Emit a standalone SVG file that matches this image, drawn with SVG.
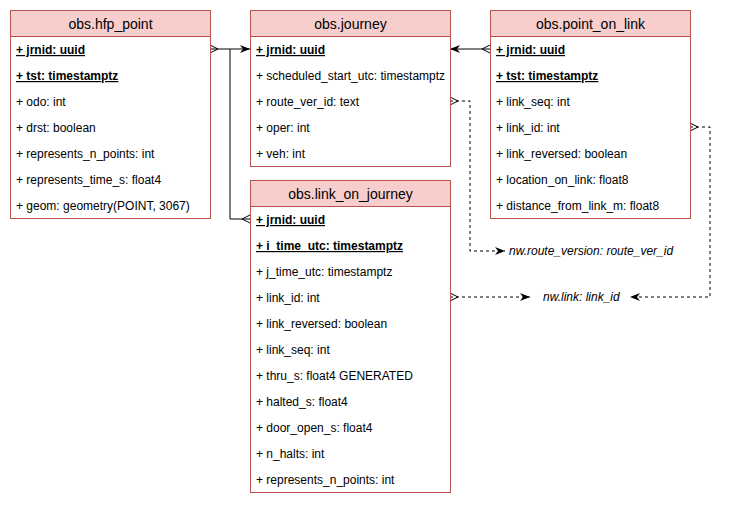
<svg xmlns="http://www.w3.org/2000/svg" width="730" height="506" viewBox="0 0 730 506">
<style>
.hd{fill:#f8cecc;stroke:#b85450;stroke-width:1}
.bd{fill:#ffffff;stroke:#b85450;stroke-width:1}
.t{font-family:"Liberation Sans",Arial,sans-serif;font-size:14px;fill:#000;text-anchor:middle}
.r{font-family:"Liberation Sans",Arial,sans-serif;font-size:12px;fill:#000}
.k{font-weight:bold;text-decoration:underline}
.lbl{font-family:"Liberation Sans",Arial,sans-serif;font-size:12px;font-style:italic;fill:#000}
.c{fill:none;stroke:#000;stroke-width:1}
.d{stroke-dasharray:3 3}
.cf{fill:none;stroke:#000;stroke-width:1}
</style>
<defs>
<marker id="ah" viewBox="0 0 10 10" refX="10" refY="5" markerWidth="10" markerHeight="10" markerUnits="userSpaceOnUse" orient="auto">
<path d="M0,1 L10,5 L0,9 L3,5 Z" fill="#000"/>
</marker>
</defs>
<g id="connectors">
<path class="c" d="M210,49 L250,49" marker-end="url(#ah)"/>
<path class="cf" d="M210,45 L218,49 L210,53"/>
<path class="c" d="M250,219 L230,219 L230,49"/>
<path class="cf" d="M250,215 L242,219 L250,223"/>
<path class="c" d="M490,49 L450,49" marker-end="url(#ah)"/>
<path class="cf" d="M490,45 L482,49 L490,53"/>
<path class="c d" d="M450,101 L470,101 L470,251 L505,251" marker-end="url(#ah)"/>
<path class="cf" d="M450,97 L458,101 L450,105"/>
<path class="c d" d="M450,297 L530,297" marker-end="url(#ah)"/>
<path class="cf" d="M450,293 L458,297 L450,301"/>
<path class="c d" d="M690,127 L710,127 L710,297 L630,297" marker-end="url(#ah)"/>
<path class="cf" d="M690,123 L698,127 L690,131"/>
<text class="lbl" x="509" y="255">nw.route_version: route_ver_id</text>
<text class="lbl" x="543" y="301">nw.link: link_id</text>
</g>
<g id="hfp_point">
<rect class="bd" x="10.5" y="10.5" width="200" height="208"/>
<rect class="hd" x="10.5" y="10.5" width="200" height="26"/>
<text class="t" x="110.5" y="28.5">obs.hfp_point</text>
<text class="r k" x="16" y="54">+ jrnid: uuid</text>
<text class="r k" x="16" y="80">+ tst: timestamptz</text>
<text class="r" x="16" y="106">+ odo: int</text>
<text class="r" x="16" y="132">+ drst: boolean</text>
<text class="r" x="16" y="158">+ represents_n_points: int</text>
<text class="r" x="16" y="184">+ represents_time_s: float4</text>
<text class="r" x="16" y="210">+ geom: geometry(POINT, 3067)</text>
</g>
<g id="journey">
<rect class="bd" x="250.5" y="10.5" width="200" height="156"/>
<rect class="hd" x="250.5" y="10.5" width="200" height="26"/>
<text class="t" x="350.5" y="28.5">obs.journey</text>
<text class="r k" x="256" y="54">+ jrnid: uuid</text>
<text class="r" x="256" y="80">+ scheduled_start_utc: timestamptz</text>
<text class="r" x="256" y="106">+ route_ver_id: text</text>
<text class="r" x="256" y="132">+ oper: int</text>
<text class="r" x="256" y="158">+ veh: int</text>
</g>
<g id="point_on_link">
<rect class="bd" x="490.5" y="10.5" width="200" height="208"/>
<rect class="hd" x="490.5" y="10.5" width="200" height="26"/>
<text class="t" x="590.5" y="28.5">obs.point_on_link</text>
<text class="r k" x="496" y="54">+ jrnid: uuid</text>
<text class="r k" x="496" y="80">+ tst: timestamptz</text>
<text class="r" x="496" y="106">+ link_seq: int</text>
<text class="r" x="496" y="132">+ link_id: int</text>
<text class="r" x="496" y="158">+ link_reversed: boolean</text>
<text class="r" x="496" y="184">+ location_on_link: float8</text>
<text class="r" x="496" y="210">+ distance_from_link_m: float8</text>
</g>
<g id="link_on_journey">
<rect class="bd" x="250.5" y="180.5" width="200" height="312"/>
<rect class="hd" x="250.5" y="180.5" width="200" height="26"/>
<text class="t" x="350.5" y="198.5">obs.link_on_journey</text>
<text class="r k" x="256" y="224">+ jrnid: uuid</text>
<text class="r k" x="256" y="250">+ i_time_utc: timestamptz</text>
<text class="r" x="256" y="276">+ j_time_utc: timestamptz</text>
<text class="r" x="256" y="302">+ link_id: int</text>
<text class="r" x="256" y="328">+ link_reversed: boolean</text>
<text class="r" x="256" y="354">+ link_seq: int</text>
<text class="r" x="256" y="380">+ thru_s: float4 GENERATED</text>
<text class="r" x="256" y="406">+ halted_s: float4</text>
<text class="r" x="256" y="432">+ door_open_s: float4</text>
<text class="r" x="256" y="458">+ n_halts: int</text>
<text class="r" x="256" y="484">+ represents_n_points: int</text>
</g>
</svg>
